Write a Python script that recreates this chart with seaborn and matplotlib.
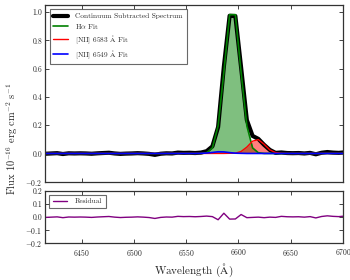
import matplotlib
matplotlib.use("Agg")
import matplotlib.pyplot as plt
import seaborn as sns

# wavelength grid (Angstrom)
wave = [6410.0, 6415.5, 6421.0, 6426.5, 6432.0, 6437.5, 6443.0, 6448.5, 6454.0, 6459.5,
        6465.0, 6470.5, 6476.0, 6481.5, 6487.0, 6492.5, 6498.0, 6503.5, 6509.0, 6514.5,
        6520.0, 6525.5, 6531.0, 6536.5, 6542.0, 6547.5, 6553.0, 6558.5, 6564.0, 6569.5,
        6575.0, 6580.5, 6586.0, 6591.5, 6597.0, 6602.5, 6608.0, 6613.5, 6619.0, 6624.5,
        6630.0, 6635.5, 6641.0, 6646.5, 6652.0, 6657.5, 6663.0, 6668.5, 6674.0, 6679.5,
        6685.0, 6690.5, 6696.0, 6701.5]

# continuum subtracted spectrum
spectrum = [0.000, -0.002, 0.000, 0.002, -0.004, 0.001, 0.000, 0.001, 0.000, -0.002,
            0.001, 0.003, 0.005, 0.000, -0.003, -0.001, 0.000, 0.002, 0.000, -0.003,
            -0.010, -0.002, 0.001, 0.000, 0.006, 0.004, 0.005, 0.003, 0.006, 0.016,
            0.050, 0.187, 0.614, 0.974, 0.972, 0.608, 0.236, 0.124, 0.103, 0.061,
            0.025, 0.004, 0.007, 0.003, 0.002, 0.003, 0.000, 0.004, -0.006, 0.005,
            0.010, 0.006, 0.004, 0.008]

# H-alpha fit
ha_fit = [0.0, 0.0, 0.0, 0.0, 0.0, 0.0, 0.0, 0.0, 0.0, 0.0,
          0.0, 0.0, 0.0, 0.0, 0.0, 0.0, 0.0, 0.0, 0.0, 0.0,
          0.0, 0.0, 0.0, 0.0, 0.0, 0.0, 0.0, 0.0, 0.0, 0.005,
          0.039, 0.195, 0.573, 0.982, 0.982, 0.573, 0.195, 0.039, 0.005, 0.0,
          0.0, 0.0, 0.0, 0.0, 0.0, 0.0, 0.0, 0.0, 0.0, 0.0,
          0.0, 0.0, 0.0, 0.0]

# [NII] 6583 fit
nii_6583 = [0.0, 0.0, 0.0, 0.0, 0.0, 0.0, 0.0, 0.0, 0.0, 0.0,
            0.0, 0.0, 0.0, 0.0, 0.0, 0.0, 0.0, 0.0, 0.0, 0.0,
            0.0, 0.0, 0.0, 0.0, 0.0, 0.0, 0.0, 0.0, 0.0, 0.0,
            0.0, 0.0, 0.0, 0.001, 0.002, 0.014, 0.045, 0.087, 0.098, 0.065,
            0.025, 0.006, 0.001, 0.0, 0.0, 0.0, 0.0, 0.0, 0.0, 0.0,
            0.0, 0.0, 0.0, 0.0]

# [NII] 6549 fit
nii_6549 = [0.0, 0.0, 0.0, 0.0, 0.0, 0.0, 0.0, 0.0, 0.0, 0.0,
            0.0, 0.0, 0.0, 0.0, 0.0, 0.0, 0.0, 0.0, 0.0, 0.0,
            0.0, 0.0, 0.0, 0.0, 0.0, 0.0, 0.0, 0.0, 0.001, 0.003,
            0.007, 0.012, 0.011, 0.006, 0.002, 0.001, 0.0, 0.0, 0.0, 0.0,
            0.0, 0.0, 0.0, 0.0, 0.0, 0.0, 0.0, 0.0, 0.0, 0.0,
            0.0, 0.0, 0.0, 0.0]

# residual (data - total fit)
residual = [0.000, -0.002, 0.000, 0.002, -0.004, 0.001, 0.000, 0.001, 0.000, -0.002,
            0.001, 0.003, 0.005, 0.000, -0.003, -0.001, 0.000, 0.002, 0.000, -0.003,
            -0.010, -0.002, 0.001, 0.000, 0.006, 0.004, 0.005, 0.003, 0.005, 0.008,
            0.004, -0.020, 0.030, -0.015, -0.014, 0.020, -0.004, -0.002, 0.000, -0.004,
            0.000, -0.002, 0.006, 0.003, 0.002, 0.003, 0.000, 0.004, -0.006, 0.005,
            0.010, 0.006, 0.004, 0.008]

top_yticks = [-0.2, 0.0, 0.2, 0.4, 0.6, 0.8, 1.0]
res_yticks = [-0.2, -0.1, 0.0, 0.1, 0.2]
xticks = [6450, 6500, 6550, 6600, 6650, 6700]

sns.set_style("ticks")
plt.rcParams.update({
    "font.family": ["cmr10", "DejaVu Serif"],
    "mathtext.fontset": "cm",
    "axes.formatter.use_mathtext": True,
    "axes.unicode_minus": True,
    "xtick.direction": "in",
    "ytick.direction": "in",
    "xtick.top": True,
    "ytick.right": True,
    "xtick.major.size": 3,
    "ytick.major.size": 3,
    "xtick.major.width": 0.6,
    "ytick.major.width": 0.6,
    "xtick.major.pad": 3,
    "ytick.major.pad": 2,
    "axes.edgecolor": "#333333",
    "axes.linewidth": 0.9,
    "xtick.labelsize": 5.5,
    "ytick.labelsize": 5.5,
})

fig = plt.figure(figsize=(3.5, 2.8), dpi=100)
ax1 = fig.add_axes([0.129, 0.351, 0.851, 0.631])
ax2 = fig.add_axes([0.129, 0.131, 0.851, 0.187])

# top panel: spectrum and line fits
sns.lineplot(x=wave, y=spectrum, ax=ax1, color="k", lw=3,
             label="Continuum Subtracted Spectrum")
sns.lineplot(x=wave, y=ha_fit, ax=ax1, color="g", lw=1.2, label=r"H$\alpha$ Fit")
sns.lineplot(x=wave, y=nii_6583, ax=ax1, color="r", lw=1.0,
             label=r"[NII] 6583 $\mathrm{\AA}$ Fit")
sns.lineplot(x=wave, y=nii_6549, ax=ax1, color="b", lw=1.2,
             label=r"[NII] 6549 $\mathrm{\AA}$ Fit")
ax1.fill_between(wave, ha_fit, color="g", alpha=0.5, lw=0)
ax1.fill_between(wave, nii_6583, color="r", alpha=0.5, lw=0)
ax1.fill_between(wave, nii_6549, color="b", alpha=0.5, lw=0)

ax1.set_xlim(6415, 6700)
ax1.set_ylim(-0.2, 1.05)
ax1.set_xticks(xticks)
ax1.set_xticklabels([])
ax1.set_yticks(top_yticks)
ax1.set_yticklabels(["%.1f" % t if t >= 0 else r"$-$%.1f" % abs(t) for t in top_yticks])
leg = ax1.legend(loc="upper left", fontsize=5.3, frameon=True, fancybox=False,
                 edgecolor="#444444", handlelength=2.0, handletextpad=1.0,
                 labelspacing=0.35, borderaxespad=0.6, borderpad=0.5)
leg.get_frame().set_linewidth(0.8)

# bottom panel: residual
sns.lineplot(x=wave, y=residual, ax=ax2, color="purple", lw=1.0, label="Residual")
ax2.set_xlim(6415, 6700)
ax2.set_ylim(-0.2, 0.2)
ax2.set_xticks(xticks)
ax2.set_yticks(res_yticks)
ax2.set_yticklabels(["%.1f" % t if t >= 0 else r"$-$%.1f" % abs(t) for t in res_yticks])
leg2 = ax2.legend(loc="upper left", fontsize=5.3, frameon=True, fancybox=False,
                  edgecolor="#444444", handlelength=2.0, handletextpad=1.0,
                  borderaxespad=0.5, borderpad=0.5)
leg2.get_frame().set_linewidth(0.8)
ax2.set_xlabel(r"Wavelength ($\mathrm{\AA}$)", fontsize=8, labelpad=2)

fig.text(0.035, 0.503, r"Flux $10^{-16}$ erg cm$^{-2}$ s$^{-1}$", rotation=90,
         ha="center", va="center", fontsize=7.5)

fig.savefig("out.png", dpi=100)
